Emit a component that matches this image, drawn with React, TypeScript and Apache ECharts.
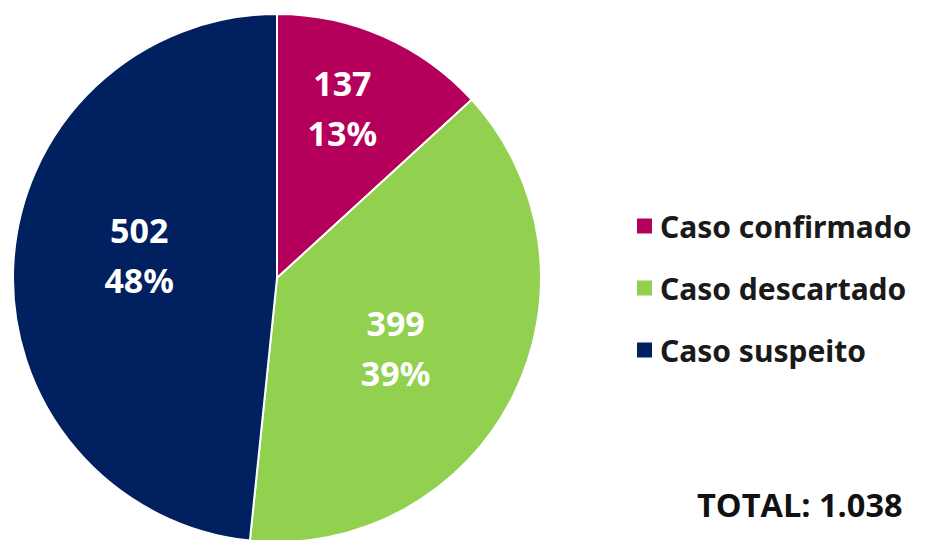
import React, { useEffect, useRef } from "react";
import * as echarts from "echarts";

const categories = ["Caso confirmado", "Caso descartado", "Caso suspeito"];
const values = [137, 399, 502];
const percentLabels = ["13%", "39%", "48%"];
const colors = ["#B5005B", "#92D050", "#002060"];
const totalLabel = "TOTAL: 1.038";
const labelDx = [11, -2, -3];
const labelDy = [-46, 9, -16];

export default function App() {
  const ref = useRef<HTMLDivElement>(null);
  useEffect(() => {
    if (!ref.current) return;
    const chart = echarts.init(ref.current, null, { renderer: "svg" });
    chart.setOption({
      animation: false,
      backgroundColor: "#ffffff",
      legend: {
        orient: "vertical",
        left: 630,
        top: 206,
        itemWidth: 17,
        itemHeight: 17,
        itemGap: 32,
        icon: "rect",
        selectedMode: false,
        data: categories,
        textStyle: {
          fontFamily: "Noto Sans",
          fontWeight: "bold",
          fontSize: 30,
          color: "#1a1a1a",
          padding: [0, 0, 0, 2],
        },
      },
      graphic: [
        {
          type: "text",
          left: 697,
          top: 488,
          style: {
            text: totalLabel,
            fontFamily: "Open Sans",
            fontWeight: "bold",
            fontSize: 32.5,
            fill: "#111111",
          },
        },
      ],
      series: [
        {
          type: "pie",
          center: [277, 278],
          radius: 264,
          startAngle: 90,
          clockwise: true,
          silent: true,
          itemStyle: { borderColor: "#ffffff", borderWidth: 2 },
          label: {
            show: true,
            position: "inside",
            color: "#ffffff",
            fontFamily: "Noto Sans",
            fontWeight: "bold",
            fontSize: 34,
            lineHeight: 50,
            formatter: (p: any) => `${p.value}\n${percentLabels[p.dataIndex]}`,
          },
          labelLine: { show: false },
          labelLayout: (p: any) => ({ dx: labelDx[p.dataIndex], dy: labelDy[p.dataIndex] }),
          emphasis: { disabled: true },
          data: categories.map((name, i) => ({
            name,
            value: values[i],
            itemStyle: { color: colors[i] },
          })),
        },
      ],
    });
    return () => chart.dispose();
  }, []);
  return (
    <div
      ref={ref}
      style={{ position: "absolute", left: 0, top: 0, width: 929, height: 540 }}
    />
  );
}
